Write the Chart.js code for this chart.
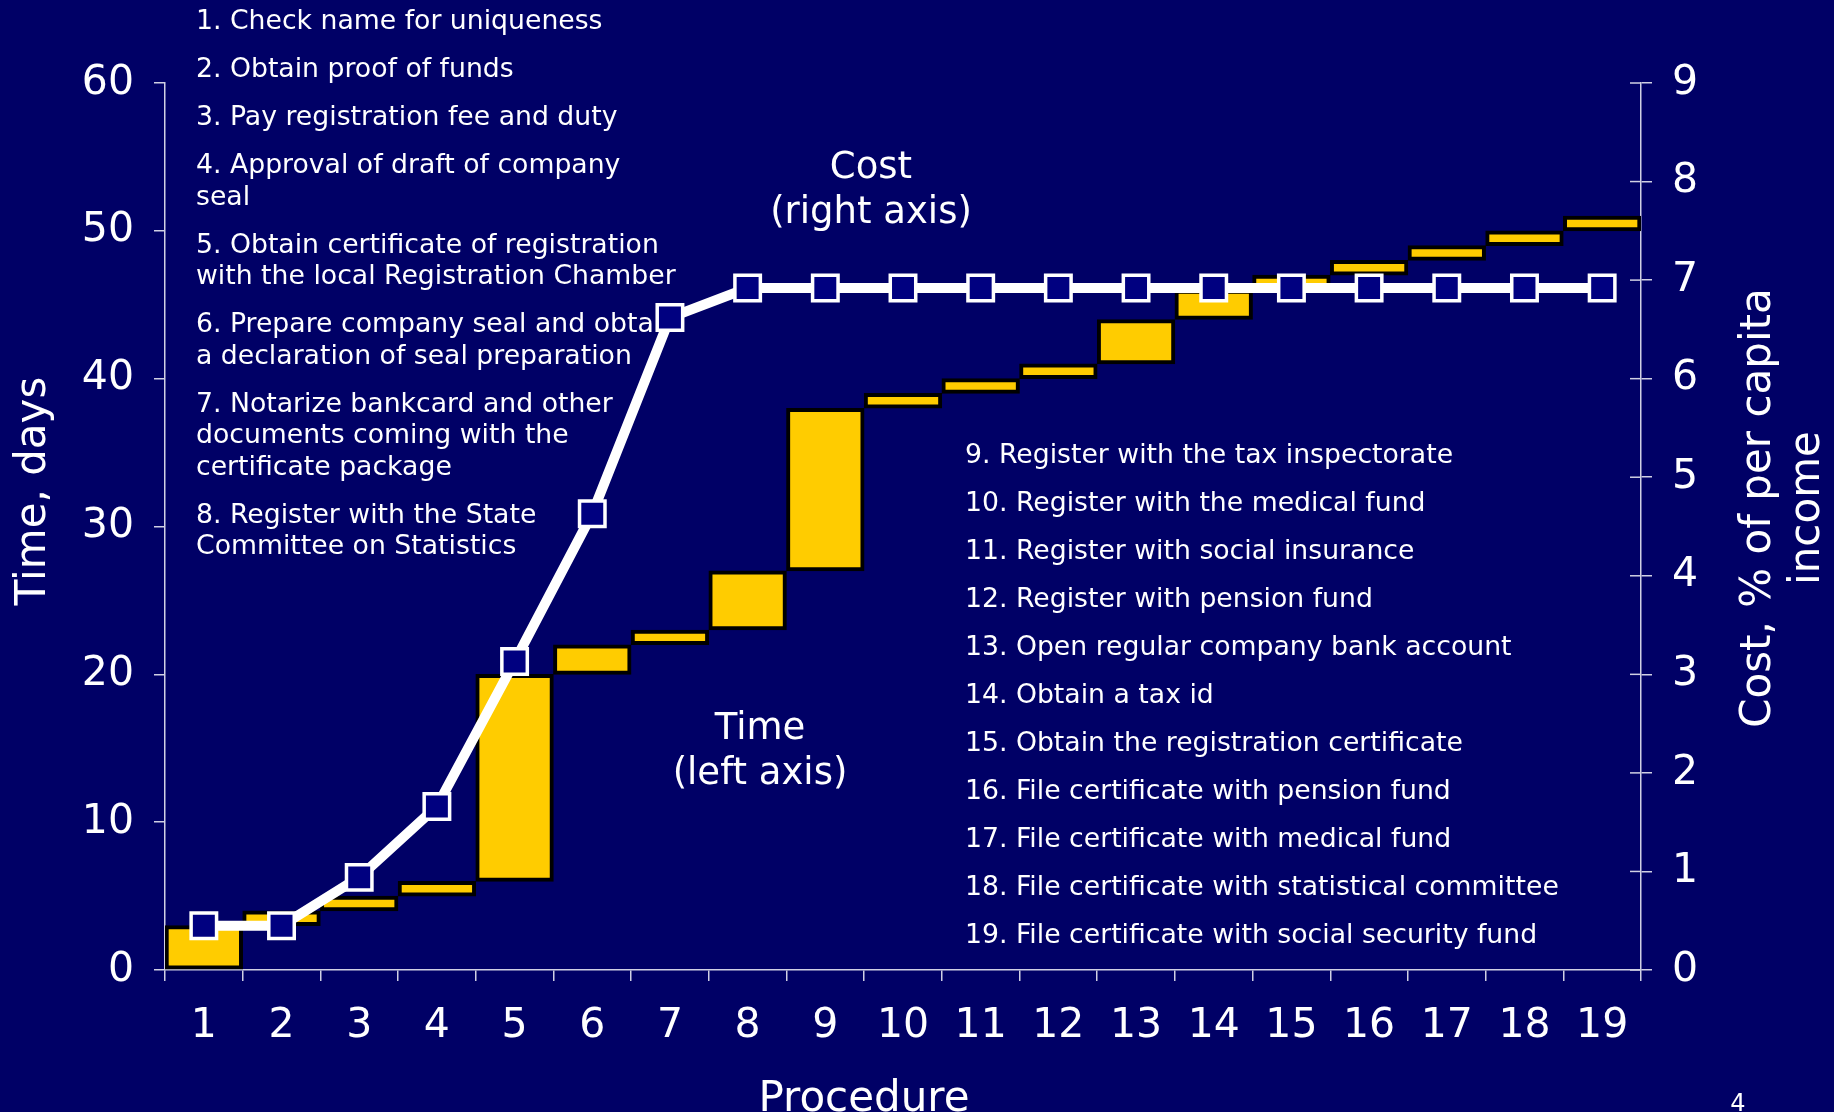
<!DOCTYPE html>
<html>
<head>
<meta charset="utf-8">
<script src="https://cdn.jsdelivr.net/npm/chart.js@4/dist/chart.umd.min.js"></script>
<style>
html, body { margin: 0; padding: 0; background: #000066; overflow: hidden; }
canvas { display: block; }
</style>
</head>
<body>
<canvas id="chart" width="1834" height="1112" style="width:1834px;height:1112px"></canvas>
<script>
Chart.defaults.font.family = "'DejaVu Sans', Verdana, sans-serif";
Chart.defaults.color = '#fff';

const procedures = ['1', '2', '3', '4', '5', '6', '7', '8', '9', '10', '11', '12', '13', '14', '15', '16', '17', '18', '19'];
const timeStart = [0, 3, 4, 5, 6, 20, 22, 23, 27, 38, 39, 40, 41, 44, 46, 47, 48, 49, 50];
const timeEnd = [3, 4, 5, 6, 20, 22, 23, 27, 38, 39, 40, 41, 44, 46, 47, 48, 49, 50, 51];
const costPercent = [0.45, 0.45, 0.94, 1.66, 3.13, 4.63, 6.62, 6.92, 6.92, 6.92, 6.92, 6.92, 6.92, 6.92, 6.92, 6.92, 6.92, 6.92, 6.92];
const timeTicks = [0, 10, 20, 30, 40, 50, 60];
const costTicks = [0, 1, 2, 3, 4, 5, 6, 7, 8, 9];

// procedure names, one entry per item, split the way the slide wraps them
const stepsLeft = [
    ['1. Check name for uniqueness'],
    ['2. Obtain proof of funds'],
    ['3. Pay registration fee and duty'],
    ['4. Approval of draft of company', 'seal'],
    ['5. Obtain certificate of registration', 'with the local Registration Chamber'],
    ['6. Prepare company seal and obtain', 'a declaration of seal preparation'],
    ['7. Notarize bankcard and other', 'documents coming with the', 'certificate package'],
    ['8. Register with the State', 'Committee on Statistics']
];
const stepsRight = [
    '9. Register with the tax inspectorate',
    '10. Register with the medical fund',
    '11. Register with social insurance',
    '12. Register with pension fund',
    '13. Open regular company bank account',
    '14. Obtain a tax id',
    '15. Obtain the registration certificate',
    '16. File certificate with pension fund',
    '17. File certificate with medical fund',
    '18. File certificate with statistical committee',
    '19. File certificate with social security fund'
];

const bgColor = '#000066';
const axisColor = '#d0d0e4';
const fontFamily = "'DejaVu Sans', Verdana, sans-serif";

function drawText(ctx, str, x, y, size, align, baseline, rotation) {
    ctx.save();
    ctx.translate(x, y);
    if (rotation) ctx.rotate(rotation);
    ctx.font = `${size}px ${fontFamily}`;
    ctx.fillStyle = '#fff';
    ctx.textAlign = align || 'left';
    ctx.textBaseline = baseline || 'alphabetic';
    ctx.fillText(str, 0, 0);
    ctx.restore();
}

const slidePlugin = {
    id: 'slide',
    beforeDraw(chart) {
        const ctx = chart.ctx;
        ctx.save();
        ctx.fillStyle = bgColor;
        ctx.fillRect(0, 0, chart.width, chart.height);
        ctx.restore();
    },
    beforeDatasetsDraw(chart) {
        const ctx = chart.ctx;

        // list of procedures, left block
        let y = 29;
        stepsLeft.forEach(item => {
            item.forEach((line, i) => {
                drawText(ctx, line, 196, y, 26.7);
                if (i < item.length - 1) y += 31.5;
            });
            y += 48;
        });

        // list of procedures, right block
        stepsRight.forEach((line, i) => {
            drawText(ctx, line, 965, 463 + i * 48, 26.7);
        });

        drawText(ctx, 'Cost', 871, 168, 37, 'center', 'middle');
        drawText(ctx, '(right axis)', 871, 213, 37, 'center', 'middle');
        drawText(ctx, 'Time', 760, 729, 37, 'center', 'middle');
        drawText(ctx, '(left axis)', 760, 774, 37, 'center', 'middle');
    },
    afterDraw(chart) {
        const ctx = chart.ctx;
        const right = chart.scales.yCost;

        // right axis ticks cross the axis line
        ctx.save();
        ctx.strokeStyle = axisColor;
        ctx.lineWidth = 1.5;
        costTicks.forEach(v => {
            const py = right.getPixelForValue(v);
            ctx.beginPath();
            ctx.moveTo(right.left - 11, py);
            ctx.lineTo(right.left, py);
            ctx.stroke();
        });
        ctx.restore();

        drawText(ctx, 'Time, days', 34, 491, 42, 'center', 'middle', -Math.PI / 2);
        drawText(ctx, 'Cost, % of per capita', 1759, 508, 42, 'center', 'middle', -Math.PI / 2);
        drawText(ctx, 'income', 1808, 508, 42, 'center', 'middle', -Math.PI / 2);
        drawText(ctx, 'Procedure', 864, 1111, 42, 'center', 'alphabetic');
        drawText(ctx, '4', 1738, 1111, 24, 'center', 'alphabetic');
    }
};

const axisGrid = {
    display: true,
    drawOnChartArea: false,
    drawTicks: true,
    tickLength: 11,
    color: axisColor,
    lineWidth: 1.5
};

const config = {
    data: {
        labels: procedures,
        datasets: [
            {
                type: 'line',
                label: 'Cost',
                data: costPercent,
                yAxisID: 'yCost',
                order: 0,
                borderColor: '#ffffff',
                borderWidth: 10,
                tension: 0,
                pointStyle: 'rect',
                pointRadius: 18,
                pointBorderWidth: 3.5,
                pointBackgroundColor: '#000080',
                pointBorderColor: '#ffffff',
                clip: false
            },
            {
                type: 'bar',
                label: 'Time',
                data: timeStart.map((s, i) => [s, timeEnd[i]]),
                yAxisID: 'y',
                order: 1,
                backgroundColor: '#ffcc00',
                borderColor: '#000000',
                borderWidth: 4,
                borderSkipped: false,
                barPercentage: 1,
                categoryPercentage: 1
            }
        ]
    },
    options: {
        responsive: false,
        animation: false,
        devicePixelRatio: 1,
        layout: { padding: { top: 83, left: 0, right: 0, bottom: 0 } },
        plugins: {
            legend: { display: false },
            tooltip: { enabled: false }
        },
        scales: {
            x: {
                offset: true,
                grid: Object.assign({}, axisGrid, { offset: true }),
                border: { display: true, color: axisColor, width: 1.5 },
                ticks: { color: '#fff', font: { size: 41 }, padding: 21, maxRotation: 0, autoSkip: false },
                afterFit: scale => { scale.height = 142; }
            },
            y: {
                position: 'left',
                min: 0,
                max: 60,
                grid: axisGrid,
                border: { display: true, color: axisColor, width: 1.5 },
                ticks: { color: '#fff', font: { size: 41 }, padding: 20 },
                afterBuildTicks: scale => { scale.ticks = timeTicks.map(v => ({ value: v })); },
                afterFit: scale => { scale.width = 165; }
            },
            yCost: {
                position: 'right',
                min: 0,
                max: 9,
                grid: axisGrid,
                border: { display: true, color: axisColor, width: 1.5 },
                ticks: { color: '#fff', font: { size: 41 }, padding: 20 },
                afterBuildTicks: scale => { scale.ticks = costTicks.map(v => ({ value: v })); },
                afterFit: scale => { scale.width = 193; }
            }
        }
    },
    plugins: [slidePlugin]
};

new Chart(document.getElementById('chart'), config);
</script>
</body>
</html>
